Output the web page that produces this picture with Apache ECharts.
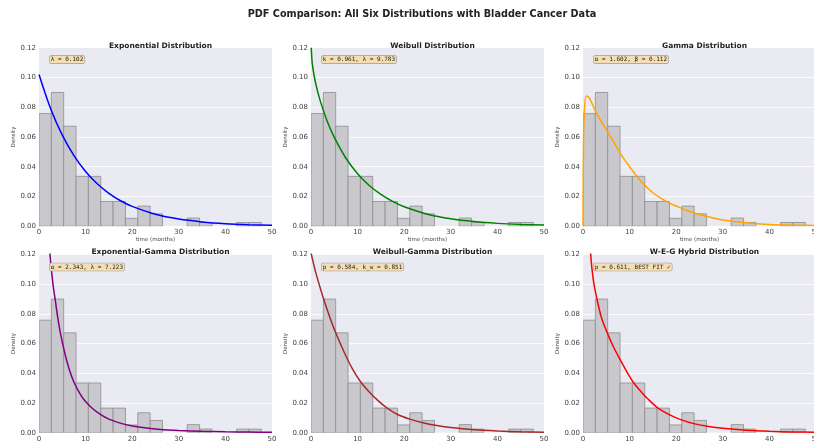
<!DOCTYPE html>
<html><head><meta charset="utf-8">
<script src="https://cdn.jsdelivr.net/npm/echarts@6/dist/echarts.min.js"></script>
<style>html,body{margin:0;padding:0;background:#fff;overflow:hidden}#c{width:814px;height:444px}</style>
</head><body><div id="c"></div>
<script>
// ---- data ----
const binStarts = [0,2.65,5.3,7.95,10.6,13.25,15.9,18.55,21.2,23.85,26.5,29.15,31.8,34.45,37.1,39.75,42.4,45.05];
const binWidth = 2.65;
const densities = [0.0757,0.0899,0.0672,0.0335,0.0335,0.0166,0.0166,0.0053,0.0135,0.0083,0,0,0.0055,0.0025,0,0,0.0025,0.0025];

const expCurve = [[0,0.102],[2.5,0.079],[5,0.0612],[7.5,0.0475],[10,0.0368],[12.5,0.0285],[15,0.0221],[17.5,0.0171],[20,0.0133],[25,0.0080],[30,0.0048],[35,0.0029],[40,0.0017],[45,0.0010],[50,0.0006]];
const weibullCurve = [[0.05,0.120],[0.3,0.1086],[1,0.096],[2,0.0841],[3.5,0.0704],[5,0.0597],[7.5,0.0457],[10,0.0353],[12.5,0.0274],[15,0.0214],[17.5,0.0167],[20,0.0131],[25,0.0081],[30,0.0050],[35,0.0031],[40,0.0019],[45,0.0012],[50,0.0008]];
const gammaCurve = [[0,0],[0.1,0.055],[0.3,0.078],[0.7,0.0876],[1.3,0.0865],[2,0.082],[3,0.0755],[4,0.070],[5,0.065],[6.5,0.057],[8,0.049],[10,0.040],[11.5,0.0338],[13,0.0283],[15,0.0225],[17,0.0182],[18.5,0.0157],[20,0.0136],[22.5,0.0104],[25,0.0079],[27.5,0.0058],[30,0.0042],[35,0.0023],[40,0.0012],[45,0.0007],[50,0.0004]];
const expGammaCurve = [[1.5,0.17],[2.36,0.12],[3,0.100],[3.5,0.089],[4,0.078],[4.5,0.0685],[5.5,0.054],[6.5,0.0425],[7.5,0.034],[9,0.0252],[10,0.021],[11.3,0.0168],[13,0.0127],[15,0.0092],[18,0.0060],[20,0.0046],[23,0.0032],[26,0.0023],[30,0.0016],[35,0.0010],[40,0.0007],[45,0.0005],[50,0.0003]];
const weibullGammaCurve = [[0,0.121],[1,0.108],[2.5,0.092],[4,0.078],[5.3,0.0672],[7,0.055],[8.8,0.0435],[10.6,0.0345],[12.5,0.0275],[14.5,0.0213],[16.2,0.017],[18.5,0.0125],[21.2,0.0092],[24,0.0068],[27,0.0049],[30,0.0035],[35,0.0020],[40,0.0012],[45,0.0007],[50,0.0004]];
const wegCurve = [[1.2,0.16],[1.65,0.12],[2.2,0.103],[3,0.0898],[4,0.077],[5.2,0.0672],[6.5,0.058],[8,0.049],[9.5,0.0405],[10.9,0.0335],[12.5,0.0275],[14,0.0225],[16.1,0.0166],[18.6,0.0121],[21.1,0.0087],[24,0.006],[27,0.0042],[30,0.003],[35,0.0017],[40,0.001],[45,0.0006],[50,0.0004]];

const yTicks = [0,0.02,0.04,0.06,0.08,0.10,0.12];
const xTicks = [0,10,20,30,40,50];

const panels = [
  {title:'Exponential Distribution', curve: expCurve, color:'#0000FF', note:'λ = 0.102', xname:'time (months)'},
  {title:'Weibull Distribution', curve: weibullCurve, color:'#008000', note:'k = 0.961, λ = 9.783', xname:'time (months)'},
  {title:'Gamma Distribution', curve: gammaCurve, color:'#FFA500', note:'α = 1.602, β = 0.112', xname:'time (months)'},
  {title:'Exponential-Gamma Distribution', curve: expGammaCurve, color:'#800080', note:'α = 2.343, λ = 7.223', xname:'Time (months)'},
  {title:'Weibull-Gamma Distribution', curve: weibullGammaCurve, color:'#A52A2A', note:'p = 0.584, k_w = 0.851', xname:'Time (months)'},
  {title:'W-E-G Hybrid Distribution', curve: wegCurve, color:'#FF0000', note:'p = 0.611, BEST FIT ✓', xname:'Time (months)'}
];

// ---- layout ----
const colLeft = [39, 311, 583];
const rowTop = [47.7, 254.3];
const gw = 233, gh = 178.5;
const FONT = 'DejaVu Sans';

const grids = [], xAxes = [], yAxes = [], series = [], titles = [], graphics = [];
titles.push({text:'PDF Comparison: All Six Distributions with Bladder Cancer Data', left:417, top:4, textAlign:'center',
  textStyle:{fontFamily:FONT, fontSize:9.7, fontWeight:'bold', color:'#222'}});

panels.forEach((p, i) => {
  const c = i % 3, r = Math.floor(i / 3);
  const L = colLeft[c], T = rowTop[r];
  grids.push({left:L, top:T, width:gw, height:gh, backgroundColor:'#EAEAF2', show:true, borderWidth:0,
    containLabel:false, outerBoundsMode:'none'});
  xAxes.push({type:'value', gridIndex:i, min:0, max:50, interval:10,
    axisLine:{show:false}, axisTick:{show:false}, splitLine:{show:false},
    axisLabel:{fontFamily:FONT, fontSize:7, color:'#444', margin:2.5},
    name:p.xname, nameLocation:'middle', nameGap:10.5, nameTextStyle:{fontFamily:FONT, fontSize:5.5, color:'#444'}});
  yAxes.push({type:'value', gridIndex:i, min:0, max:0.12, interval:0.02,
    axisLine:{show:false}, axisTick:{show:false},
    splitLine:{show:true, lineStyle:{color:'#ffffff', width:0.8}},
    axisLabel:{fontFamily:FONT, fontSize:7, color:'#444', margin:3, formatter:v=>v.toFixed(2)},
    name:'Density', nameLocation:'middle', nameRotate:90, nameGap:22, nameTextStyle:{fontFamily:FONT, fontSize:5.5, color:'#444'}});
  series.push({type:'custom', xAxisIndex:i, yAxisIndex:i, clip:true,
    data: binStarts.map((b, k) => [b, densities[k]]),
    renderItem:(params, api) => {
      const x0 = api.value(0), y = api.value(1);
      if (!y) return null;
      const p0 = api.coord([x0, y]), p1 = api.coord([x0 + binWidth, 0]);
      return {type:'rect', shape:{x:p0[0], y:p0[1], width:p1[0]-p0[0], height:p1[1]-p0[1]},
        style:{fill:'#C9C9CD', stroke:'#8d8d91', lineWidth:0.8}};
    }, z:2});
  series.push({type:'line', xAxisIndex:i, yAxisIndex:i, data:p.curve, smooth:0.3, showSymbol:false, clip:true,
    lineStyle:{color:p.color, width:1.5}, z:3});
  titles.push({text:p.title, left:L + gw/2, top:T - 11, textAlign:'center',
    textStyle:{fontFamily:FONT, fontSize:7.5, fontWeight:'bold', color:'#222'}});
  graphics.push({type:'text', left:L + 10, top:T + (r === 0 ? 7.6 : 8.4), z:10,
    style:{text:p.note, font:'6px "DejaVu Sans Mono"', fill:'#222', backgroundColor:'#F5DEB3',
      borderColor:'#9a9a9a', borderWidth:0.6, borderRadius:1.5, padding:[0.8,1.2,0.6,1.2]}});
});

const chart = echarts.init(document.getElementById('c'), null, {renderer:'canvas'});
chart.setOption({animation:false, backgroundColor:'#ffffff', title:titles, grid:grids, xAxis:xAxes, yAxis:yAxes, series:series, graphic:graphics});
</script></body></html>
